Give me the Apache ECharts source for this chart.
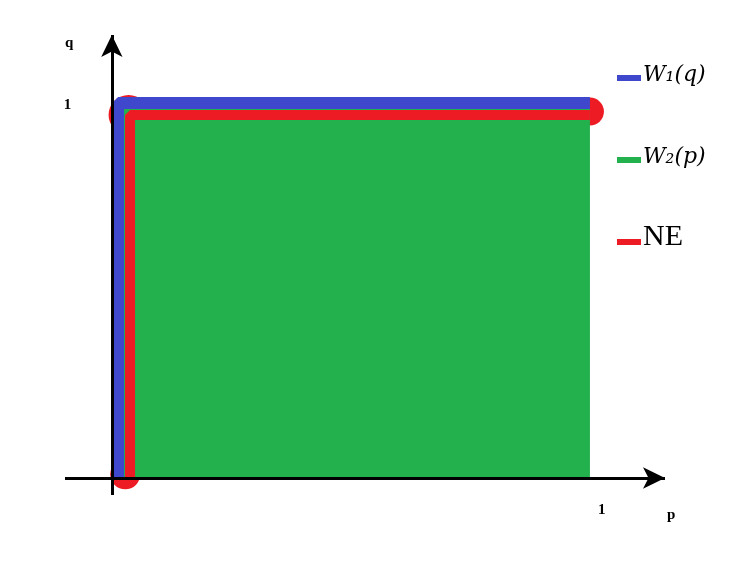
<!DOCTYPE html><html><head><meta charset="utf-8"><script src="https://cdn.jsdelivr.net/npm/echarts@6/dist/echarts.min.js"></script>
<style>body{margin:0}#c{width:745px;height:587px;background:#fff}</style></head><body><div id="c"></div><script>
const areaW2=[[0,1],[1,1]];
const lineW1=[[0.013,0],[0.013,1.013],[1,1.013]];
const lineNE=[[0.038,0],[0.038,0.981],[1,0.981]];
const neDots=[[0.035,0.981,40],[1,0.99,28],[0.028,0.01,30]];
const tickX=[[1,'1']], tickY=[[1,'1']];
const legendItems=[['W₁(q)','#3f48cc',78],['W₂(p)','#22b14c',160],['NE','#ed1c24',242]];
const ch=echarts.init(document.getElementById('c'));
const axLine={symbol:['none','arrow'],symbolSize:[16,22],silent:true,label:{show:false},lineStyle:{color:'#000',width:3,type:'solid'}};
ch.setOption({animation:false,
grid:{left:65,right:80,top:35,bottom:92},
xAxis:{type:'value',min:-0.098,max:1.157,show:false},
yAxis:{type:'value',min:-0.046,max:1.197,show:false},
series:[
{type:'line',data:areaW2,symbol:'none',lineStyle:{width:0},areaStyle:{color:'#22b14c',opacity:1,origin:0},
 markLine:Object.assign({data:[[{coord:[-0.098,0]},{coord:[1.157,0]}],[{coord:[0,-0.046]},{coord:[0,1.197]}]]},axLine)},
{type:'line',data:lineW1,symbol:'none',lineStyle:{color:'#3f48cc',width:12}},
{type:'line',data:lineNE,symbol:'none',lineStyle:{color:'#ed1c24',width:10}},
{type:'scatter',data:neDots,symbolSize:v=>v[2],itemStyle:{color:'#ed1c24',opacity:1}}
]});
const g=[];
const f='bold 15px "Liberation Serif"';
tickX.forEach(t=>{const p=ch.convertToPixel({gridIndex:0},[t[0],0]);g.push({type:'text',x:p[0]+8,y:p[1]+25,style:{text:t[1],font:f,fill:'#000'}});});
tickY.forEach(t=>{const p=ch.convertToPixel({gridIndex:0},[0,t[0]]);g.push({type:'text',x:p[0]-48,y:p[1]-10,style:{text:t[1],font:f,fill:'#000'}});});
g.push({type:'text',x:65,y:36,style:{text:'q',font:f,fill:'#000'}});
g.push({type:'text',x:667,y:508,style:{text:'p',font:f,fill:'#000'}});
legendItems.forEach(([t,c,y],i)=>{
 g.push({type:'rect',shape:{x:617,y:y-3,width:24,height:6},style:{fill:c}});
 g.push({type:'text',x:643,y:i<2?y-14:y-20,style:{text:t,font:i<2?'italic 22px "DejaVu Serif"':'30px "Liberation Serif"',fill:'#000'}});
});
ch.setOption({graphic:g});
</script></body></html>
